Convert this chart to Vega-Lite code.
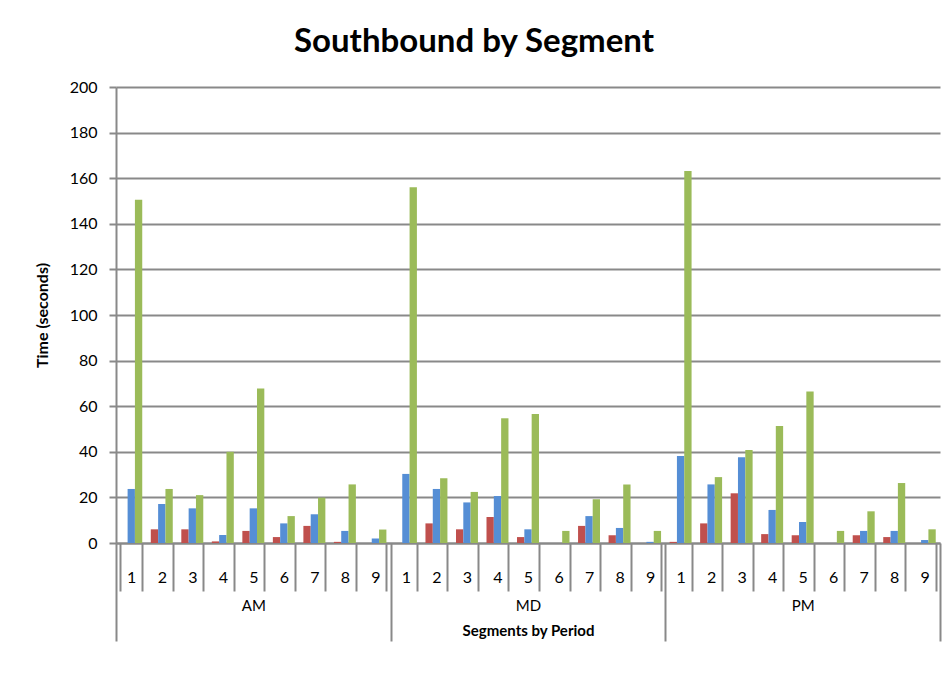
{
  "$schema": "https://vega.github.io/schema/vega-lite/v6.json",
  "width": 824,
  "height": 456,
  "autosize": {"type": "none"},
  "padding": {"left": 116, "top": 87, "right": 7, "bottom": 144},
  "background": "white",
  "config": {"view": {"stroke": null}, "font": "Lato"},
  "title": {"text": "Southbound by Segment", "fontSize": 33, "fontWeight": "bold", "color": "#000000", "anchor": "middle", "frame": "group", "dx": -54, "offset": 20},
  "data": {"values": [
    {"key":"AM|1","period":"AM","series":"S1","value":0},
    {"key":"AM|1","period":"AM","series":"S2","value":23.7},
    {"key":"AM|1","period":"AM","series":"S3","value":150.6},
    {"key":"AM|2","period":"AM","series":"S1","value":6.0},
    {"key":"AM|2","period":"AM","series":"S2","value":17.1},
    {"key":"AM|2","period":"AM","series":"S3","value":23.7},
    {"key":"AM|3","period":"AM","series":"S1","value":6.0},
    {"key":"AM|3","period":"AM","series":"S2","value":15.2},
    {"key":"AM|3","period":"AM","series":"S3","value":21.0},
    {"key":"AM|4","period":"AM","series":"S1","value":0.7},
    {"key":"AM|4","period":"AM","series":"S2","value":3.5},
    {"key":"AM|4","period":"AM","series":"S3","value":40.0},
    {"key":"AM|5","period":"AM","series":"S1","value":5.3},
    {"key":"AM|5","period":"AM","series":"S2","value":15.2},
    {"key":"AM|5","period":"AM","series":"S3","value":67.8},
    {"key":"AM|6","period":"AM","series":"S1","value":2.6},
    {"key":"AM|6","period":"AM","series":"S2","value":8.6},
    {"key":"AM|6","period":"AM","series":"S3","value":11.8},
    {"key":"AM|7","period":"AM","series":"S1","value":7.5},
    {"key":"AM|7","period":"AM","series":"S2","value":12.6},
    {"key":"AM|7","period":"AM","series":"S3","value":19.9},
    {"key":"AM|8","period":"AM","series":"S1","value":0.5},
    {"key":"AM|8","period":"AM","series":"S2","value":5.3},
    {"key":"AM|8","period":"AM","series":"S3","value":25.7},
    {"key":"AM|9","period":"AM","series":"S1","value":0},
    {"key":"AM|9","period":"AM","series":"S2","value":2.0},
    {"key":"AM|9","period":"AM","series":"S3","value":5.9},
    {"key":"MD|1","period":"MD","series":"S1","value":0},
    {"key":"MD|1","period":"MD","series":"S2","value":30.3},
    {"key":"MD|1","period":"MD","series":"S3","value":156.0},
    {"key":"MD|2","period":"MD","series":"S1","value":8.6},
    {"key":"MD|2","period":"MD","series":"S2","value":23.7},
    {"key":"MD|2","period":"MD","series":"S3","value":28.4},
    {"key":"MD|3","period":"MD","series":"S1","value":6.0},
    {"key":"MD|3","period":"MD","series":"S2","value":17.8},
    {"key":"MD|3","period":"MD","series":"S3","value":22.4},
    {"key":"MD|4","period":"MD","series":"S1","value":11.4},
    {"key":"MD|4","period":"MD","series":"S2","value":20.6},
    {"key":"MD|4","period":"MD","series":"S3","value":54.7},
    {"key":"MD|5","period":"MD","series":"S1","value":2.6},
    {"key":"MD|5","period":"MD","series":"S2","value":6.0},
    {"key":"MD|5","period":"MD","series":"S3","value":56.6},
    {"key":"MD|6","period":"MD","series":"S1","value":0},
    {"key":"MD|6","period":"MD","series":"S2","value":0},
    {"key":"MD|6","period":"MD","series":"S3","value":5.3},
    {"key":"MD|7","period":"MD","series":"S1","value":7.5},
    {"key":"MD|7","period":"MD","series":"S2","value":11.8},
    {"key":"MD|7","period":"MD","series":"S3","value":19.2},
    {"key":"MD|8","period":"MD","series":"S1","value":3.4},
    {"key":"MD|8","period":"MD","series":"S2","value":6.6},
    {"key":"MD|8","period":"MD","series":"S3","value":25.7},
    {"key":"MD|9","period":"MD","series":"S1","value":0},
    {"key":"MD|9","period":"MD","series":"S2","value":0.5},
    {"key":"MD|9","period":"MD","series":"S3","value":5.3},
    {"key":"PM|1","period":"PM","series":"S1","value":0.5},
    {"key":"PM|1","period":"PM","series":"S2","value":38.2},
    {"key":"PM|1","period":"PM","series":"S3","value":163.2},
    {"key":"PM|2","period":"PM","series":"S1","value":8.6},
    {"key":"PM|2","period":"PM","series":"S2","value":25.7},
    {"key":"PM|2","period":"PM","series":"S3","value":28.9},
    {"key":"PM|3","period":"PM","series":"S1","value":21.8},
    {"key":"PM|3","period":"PM","series":"S2","value":37.6},
    {"key":"PM|3","period":"PM","series":"S3","value":40.8},
    {"key":"PM|4","period":"PM","series":"S1","value":3.9},
    {"key":"PM|4","period":"PM","series":"S2","value":14.5},
    {"key":"PM|4","period":"PM","series":"S3","value":51.3},
    {"key":"PM|5","period":"PM","series":"S1","value":3.4},
    {"key":"PM|5","period":"PM","series":"S2","value":9.2},
    {"key":"PM|5","period":"PM","series":"S3","value":66.5},
    {"key":"PM|6","period":"PM","series":"S1","value":0},
    {"key":"PM|6","period":"PM","series":"S2","value":0},
    {"key":"PM|6","period":"PM","series":"S3","value":5.3},
    {"key":"PM|7","period":"PM","series":"S1","value":3.4},
    {"key":"PM|7","period":"PM","series":"S2","value":5.3},
    {"key":"PM|7","period":"PM","series":"S3","value":13.9},
    {"key":"PM|8","period":"PM","series":"S1","value":2.6},
    {"key":"PM|8","period":"PM","series":"S2","value":5.3},
    {"key":"PM|8","period":"PM","series":"S3","value":26.3},
    {"key":"PM|9","period":"PM","series":"S1","value":0},
    {"key":"PM|9","period":"PM","series":"S2","value":1.3},
    {"key":"PM|9","period":"PM","series":"S3","value":6.0}
  ]},
  "layer": [
    {
      "mark": {"type": "bar"},
      "encoding": {
        "x": {
          "field": "key", "type": "nominal", "sort": null,
          "scale": {"paddingInner": 0.28, "paddingOuter": 0.14},
          "axis": {
            "orient": "bottom", "title": null, "labelAngle": 0,
            "labelExpr": "split(datum.value, '|')[1]",
            "labelFontSize": 16, "labelColor": "#000000", "labelPadding": -22,
            "tickBand": "extent", "tickExtra": true,
            "tickSize": 48, "tickColor": "#898989", "tickWidth": 2,
            "domainColor": "#898989", "domainWidth": 2
          }
        },
        "xOffset": {"field": "series", "sort": ["S1", "S2", "S3"]},
        "y": {
          "field": "value", "type": "quantitative",
          "scale": {"domain": [0, 200]},
          "axis": {
            "title": "Time (seconds)", "titleFontSize": 16, "titleFontWeight": "bold", "titleColor": "#000000", "titlePadding": 19,
            "values": [0, 20, 40, 60, 80, 100, 120, 140, 160, 180, 200],
            "labelFontSize": 16, "labelColor": "#000000", "labelPadding": 12,
            "grid": true, "gridColor": "#898989", "gridWidth": 2,
            "domainColor": "#898989", "domainWidth": 2,
            "tickColor": "#898989", "tickWidth": 2, "tickSize": 7
          }
        },
        "color": {
          "field": "series", "type": "nominal",
          "scale": {"domain": ["S1", "S2", "S3"], "range": ["#C0504D", "#558ED5", "#9BBB59"]},
          "legend": null
        }
      }
    },
    {
      "mark": {"type": "bar", "opacity": 0},
      "encoding": {
        "x": {
          "field": "period", "type": "nominal", "sort": null,
          "scale": {"paddingInner": 0, "paddingOuter": 0},
          "axis": {
            "orient": "bottom", "title": "Segments by Period", "titleFontSize": 15, "titleFontWeight": "bold", "titleColor": "#000000",
            "titleY": 80, "labelAngle": 0,
            "labelFontSize": 15, "labelColor": "#000000", "labelPadding": -43,
            "tickBand": "extent", "tickExtra": true,
            "tickSize": 98, "tickColor": "#898989", "tickWidth": 2,
            "domain": false
          }
        },
        "y": {"field": "value", "type": "quantitative", "stack": null}
      }
    }
  ],
  "resolve": {"scale": {"x": "independent"}, "axis": {"x": "independent"}}
}
